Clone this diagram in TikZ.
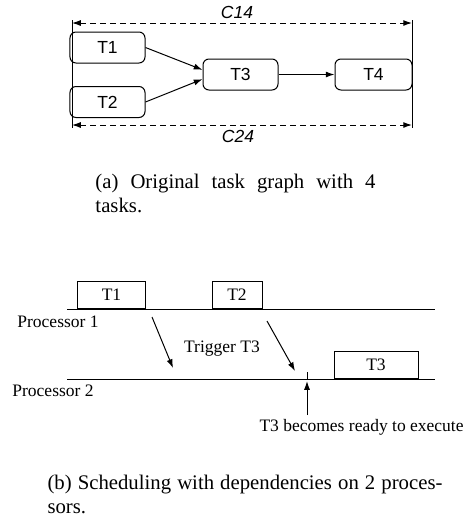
\documentclass[tikz,border=0pt]{standalone}
\usepackage{fontspec}
\setmainfont{Liberation Serif}
\setsansfont{Liberation Sans}
\usepackage{tikz}
\usetikzlibrary{arrows.meta,positioning,calc}

\begin{document}
\begin{tikzpicture}[
    x=0.4pt,y=-0.4pt,
    every node/.style={font=\fontsize{7}{8.4}\selectfont},
    task/.style={draw,rounded corners=2.4pt,minimum width=30pt,minimum height=12.4pt,inner sep=0pt,font=\sffamily\fontsize{7}{8.4}\selectfont},
    slot/.style={draw,anchor=south,minimum height=10.8pt,inner sep=0pt},
    link/.style={-{Latex[length=3.5pt,width=2.4pt]}},
    span/.style={{Latex[length=3.5pt,width=2.4pt]}-{Latex[length=3.5pt,width=2.4pt]},dash pattern=on 2.4pt off 1.6pt},
    cost/.style={font=\sffamily\itshape\fontsize{7}{8.4}\selectfont},
    capt/.style={anchor=north west,inner sep=0pt,align=justify,font=\fontsize{8.3}{9.6}\selectfont}
]
\useasboundingbox (0,0) rectangle (464,521);

% (a) task graph
\node[task] (t1) at (107.5,47.5) {T1};
\node[task] (t2) at (107.5,102)  {T2};
\node[task] (t3) at (240.5,74.5) {T3};
\node[task,minimum width=30.8pt] (t4) at (373.5,74.5) {T4};

\draw[link] (t1.east) -- (t3.173);
\draw[link] (t2.east) -- (t3.187);
\draw[link] (t3) -- (t4);

% communication costs
\coordinate (lt) at (72,20);
\coordinate (lb) at (72,128);
\coordinate (rt) at (412,20);
\coordinate (rb) at (412,128);
\draw (lt) -- (lb);
\draw (rt) -- (rb);
\draw[span] ($(lt)+(0,3)$) -- ($(rt)+(0,3)$);
\draw[span] ($(lb)+(0,-3)$) -- ($(rb)+(0,-3)$);
\node[cost] (c14) at (237,12)  {C14};
\node[cost] (c24) at (238,136) {C24};

\node[capt,text width=112pt] (capa) at (95,174) {(a) Original task graph with 4\linebreak tasks.};

% (b) schedule on two processors
\coordinate (p1s) at (67,309);
\coordinate (p1e) at (435,309);
\coordinate (p2s) at (67,379);
\coordinate (p2e) at (435,379);
\draw (p1s) -- (p1e);
\draw (p2s) -- (p2e);

\node[slot,minimum width=26.8pt] (s1) at (111.5,309) {T1};
\node[slot,minimum width=20pt]   (s2) at (237,309)   {T2};
\node[slot,minimum width=33.6pt] (s3) at (376,379)   {T3};

\node (proc1) at (58,322) {Processor 1};
\node (proc2) at (53,391) {Processor 2};

\coordinate (a1) at (152,317);
\coordinate (b1) at (173,368);
\coordinate (a2) at (267,321);
\coordinate (b2) at (295,371);
\draw[link] (a1) -- (b1);
\draw[link] (a2) -- (b2);
\node (trig) at (222,349) {Trigger T3};

\coordinate (tk) at (307,372);
\coordinate (tl) at (307,379);
\coordinate (rd) at (307,415);
\draw (tk) -- (tl);
\draw[link] (rd) -- (307,381);
\node[anchor=base west,inner sep=0pt] (ready) at (259,431) {T3 becomes ready to execute};

\node[capt,text width=158pt] (capb) at (47,475) {(b) Scheduling with dependencies on 2 proces-\linebreak sors.};
\end{tikzpicture}
\end{document}
